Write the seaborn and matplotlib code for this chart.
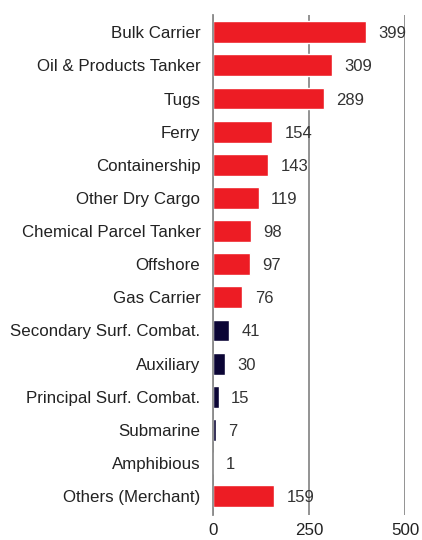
import matplotlib
matplotlib.use("Agg")
import matplotlib.pyplot as plt
import seaborn as sns
import pandas as pd

categories = [
    "Bulk Carrier", "Oil & Products Tanker", "Tugs", "Ferry", "Containership",
    "Other Dry Cargo", "Chemical Parcel Tanker", "Offshore", "Gas Carrier",
    "Secondary Surf. Combat.", "Auxiliary", "Principal Surf. Combat.",
    "Submarine", "Amphibious", "Others (Merchant)",
]
counts = [399, 309, 289, 154, 143, 119, 98, 97, 76, 41, 30, 15, 7, 1, 159]
fleet = ["Merchant"] * 9 + ["Naval"] * 5 + ["Merchant"]
x_ticks = [0, 250, 500]

palette = {"Merchant": "#ED1C24", "Naval": "#0B0535"}

df = pd.DataFrame({"category": categories, "count": counts, "fleet": fleet})

sns.set_theme(style="white")
plt.rcParams["font.family"] = ["Liberation Sans", "DejaVu Sans"]

fig = plt.figure(figsize=(4.22, 5.40), dpi=100)
ax = fig.add_axes([0.5047, 0.0463, 0.455, 0.9259])

sns.barplot(data=df, x="count", y="category", hue="fleet", palette=palette,
            dodge=False, legend=False, width=0.66, saturation=1, ax=ax,
            order=categories)

for i, v in enumerate(counts):
    ax.annotate(str(v), xy=(v, i), xytext=(9, 0), textcoords="offset points",
                va="center_baseline", ha="left", fontsize=12, color="#333333")

ax.set_xlim(0, 500)
ax.set_ylim(len(categories) - 0.43, -0.52)
ax.set_xticks(x_ticks)
ax.set_xticklabels([str(t) for t in x_ticks])
ax.xaxis.grid(True, color="#8a8a8a", linewidth=1.3)
ax.set_axisbelow(True)
for s in ["top", "right", "bottom"]:
    ax.spines[s].set_visible(False)
ax.spines["left"].set_color("#8a8a8a")
ax.spines["left"].set_linewidth(1.3)
ax.spines["left"].set_zorder(3)
ax.tick_params(axis="both", length=0, labelsize=12.2, labelcolor="#222222")
ax.tick_params(axis="y", pad=9)
ax.tick_params(axis="x", pad=6)
ax.set_xlabel("")
ax.set_ylabel("")

fig.savefig("out.png", dpi=100)
